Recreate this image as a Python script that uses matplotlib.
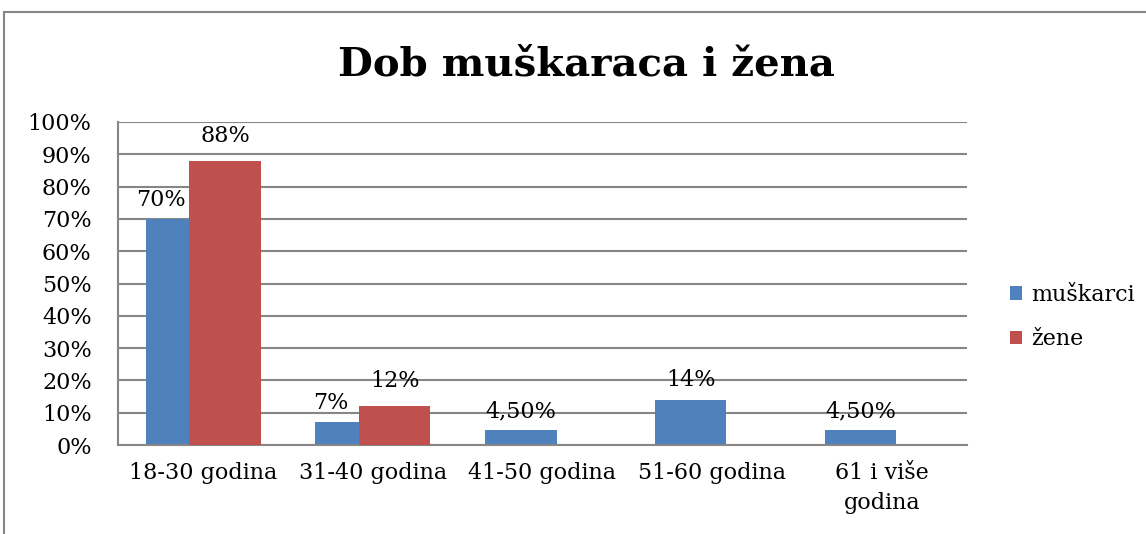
import numpy as np
import matplotlib
matplotlib.use("Agg")
import matplotlib.pyplot as plt
from matplotlib.lines import Line2D

# Chart data
categories = ['18-30 godina', '31-40 godina', '41-50 godina', '51-60 godina', '61 i više\ngodina']
muskarci = [0.70, 0.07, 0.045, 0.14, 0.045]
zene = [0.88, 0.12, np.nan, np.nan, np.nan]
muskarci_labels = ['70%', '7%', '4,50%', '14%', '4,50%']
zene_labels = ['88%', '12%', '', '', '']
series_names = ['muškarci', 'žene']
yticks = np.arange(0, 1.01, 0.1)
ytick_labels = [f'{int(round(t * 100))}%' for t in yticks]

blue = '#4F81BD'
red = '#C0504D'
grey = '#868686'

plt.rcParams['font.family'] = ['DejaVu Serif']
plt.rcParams['font.size'] = 16

W, H = 1146, 534
fig = plt.figure(figsize=(W / 100, H / 100), dpi=100)
fig.patch.set_facecolor('white')

# outer chart border (left and top only visible)
fig.add_artist(Line2D([4 / W, 4 / W], [0, 1 - 12 / H], transform=fig.transFigure, color=grey, lw=1.5))
fig.add_artist(Line2D([4 / W, 1], [1 - 12 / H, 1 - 12 / H], transform=fig.transFigure, color=grey, lw=1.5))

ax = fig.add_axes([118 / W, (H - 445) / H, (967 - 118) / W, (445 - 122) / H])

x = np.arange(len(categories))
bw = 0.42
blue_x = x - 0.127
red_x = x + 0.13

ax.bar(blue_x, muskarci, width=bw, color=blue, label=series_names[0], zorder=2)
ax.bar(red_x, zene, width=bw, color=red, label=series_names[1], zorder=3)

# data labels
for i in range(len(categories)):
    lx = blue_x[i]
    if not np.isnan(zene[i]):
        lx = blue_x[i] - 0.12
    ax.annotate(muskarci_labels[i], (lx, muskarci[i]), xytext=(0, 6), textcoords='offset points',
                ha='center', va='bottom', fontsize=16, zorder=4)
    if zene_labels[i]:
        ax.annotate(zene_labels[i], (red_x[i], zene[i]), xytext=(0, 10), textcoords='offset points',
                    ha='center', va='bottom', fontsize=16, zorder=4)

ax.set_xlim(-0.5, len(categories) - 0.5)
ax.set_ylim(0, 1)
ax.set_yticks(yticks)
ax.set_yticklabels(ytick_labels)
ax.set_xticks(x)
ax.set_xticklabels(categories, linespacing=1.5)
ax.tick_params(axis='y', length=0, pad=19)
ax.tick_params(axis='x', length=0, pad=12)
ax.yaxis.grid(True, color=grey, lw=1.5, zorder=0)
ax.set_axisbelow(True)
for s in ['top', 'right']:
    ax.spines[s].set_visible(False)
for s in ['left', 'bottom']:
    ax.spines[s].set_color(grey)
    ax.spines[s].set_linewidth(1.5)

fig.text(0.5 * (345 + 828) / W, 1 - 64 / H, 'Dob muškaraca i žena', ha='center', va='center',
         fontsize=29, fontweight='bold')

fig.legend(loc='center left', bbox_to_anchor=(990 / W, 1 - 317 / H), frameon=False,
           handlelength=0.55, handleheight=0.55, handletextpad=0.4, labelspacing=1.0, fontsize=16)

fig.savefig('out.png', dpi=100, facecolor='white')
